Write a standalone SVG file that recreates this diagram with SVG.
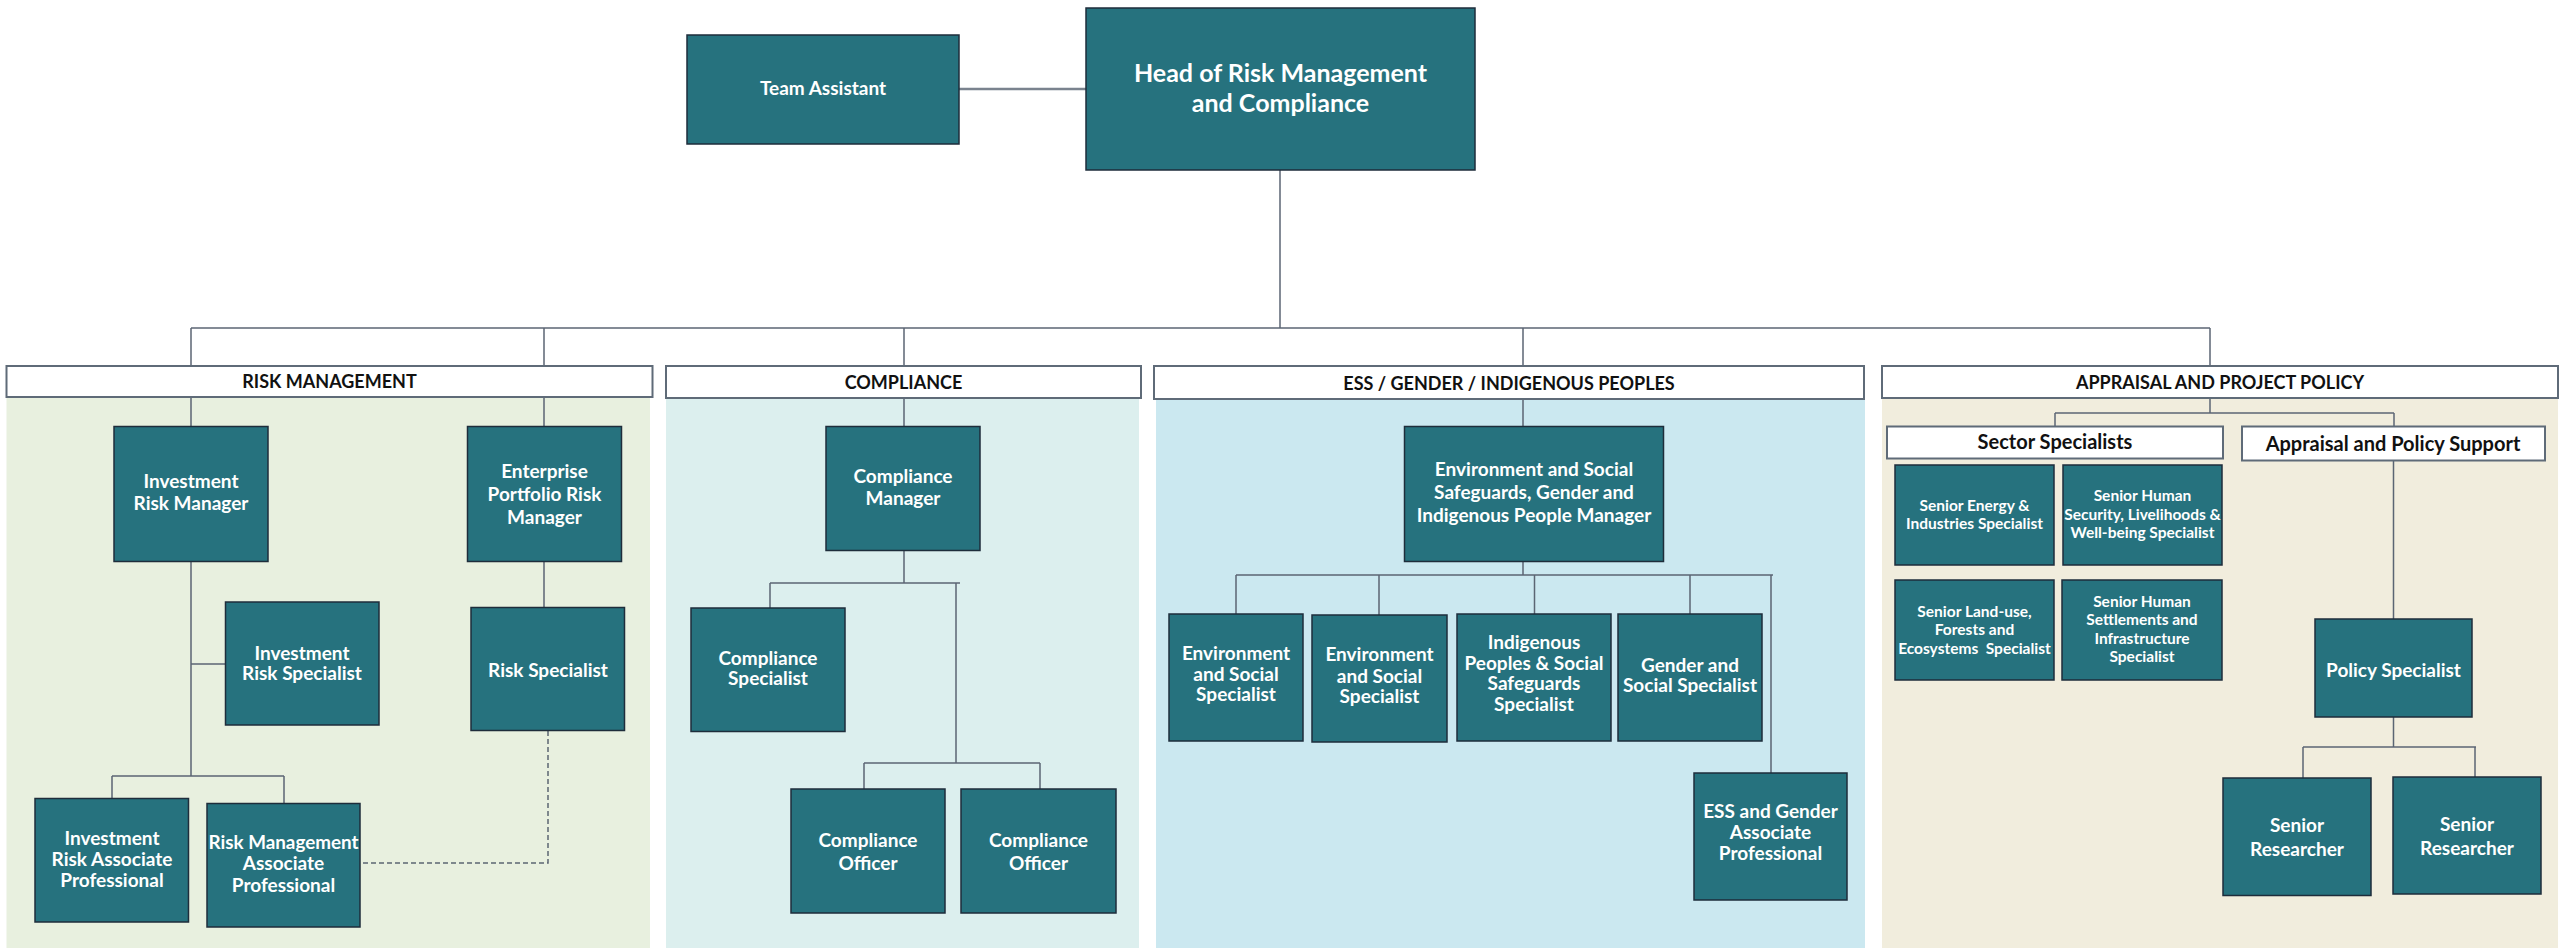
<svg xmlns="http://www.w3.org/2000/svg" width="2560" height="951" viewBox="0 0 2560 951">
<style>
.bg{fill:#ffffff}
.node{fill:#26727E;stroke:#1E2D3B;stroke-width:1.5}
.hdr{fill:#ffffff;stroke:#5F6B78;stroke-width:2}
.t{font-family:Lato,"Open Sans",sans-serif;font-weight:700;fill:#ffffff;text-anchor:middle;font-size:19px}
.ts{font-size:15.5px}
.th{font-family:Lato,"Open Sans",sans-serif;font-weight:700;fill:#111111;text-anchor:middle;font-size:18px}
.c line,.c polyline{stroke:#5B6573;stroke-width:1.5;fill:none}
.dash{stroke-dasharray:5 3}
</style>
<rect class="bg" x="0" y="0" width="2560" height="951"/>
<g id="panels">
<rect x="6.5" y="397" width="643.5" height="551" fill="#E8F0DF"/>
<rect x="666" y="398" width="473" height="550" fill="#DCEFEE"/>
<rect x="1156" y="400" width="709" height="548" fill="#CBE8F0"/>
<rect x="1882" y="398" width="676" height="550" fill="#F1EDDD"/>
</g>
<g id="connectors" class="c">
<line x1="959" y1="89" x2="1086" y2="89" style="stroke-width:2.5;stroke:#7A838E"/>
<line x1="1280" y1="170" x2="1280" y2="328"/>
<line x1="191" y1="328" x2="2210" y2="328"/>
<line x1="191" y1="328" x2="191" y2="366"/>
<line x1="544" y1="328" x2="544" y2="366"/>
<line x1="904" y1="328" x2="904" y2="366"/>
<line x1="1523" y1="328" x2="1523" y2="366"/>
<line x1="2210" y1="328" x2="2210" y2="366"/>
<line x1="191" y1="397" x2="191" y2="426.5"/>
<line x1="544" y1="397" x2="544" y2="426.5"/>
<line x1="191" y1="561.5" x2="191" y2="776"/>
<line x1="191" y1="664" x2="225" y2="664"/>
<line x1="112" y1="776" x2="284" y2="776"/>
<line x1="112" y1="776" x2="112" y2="798"/>
<line x1="284" y1="776" x2="284" y2="803"/>
<line x1="544" y1="561.5" x2="544" y2="608"/>
<polyline class="dash" points="548,731 548,863 360,863"/>
<line x1="904" y1="398" x2="904" y2="426.5"/>
<line x1="904" y1="550" x2="904" y2="583"/>
<line x1="770" y1="583" x2="960" y2="583"/>
<line x1="770" y1="583" x2="770" y2="608"/>
<line x1="956" y1="583" x2="956" y2="763"/>
<line x1="864" y1="763" x2="1040" y2="763"/>
<line x1="864" y1="763" x2="864" y2="789"/>
<line x1="1040" y1="763" x2="1040" y2="789"/>
<line x1="1523" y1="400" x2="1523" y2="426.5"/>
<line x1="1523" y1="561.5" x2="1523" y2="575"/>
<line x1="1236" y1="575" x2="1773" y2="575"/>
<line x1="1236" y1="575" x2="1236" y2="614"/>
<line x1="1379" y1="575" x2="1379" y2="615"/>
<line x1="1534.5" y1="575" x2="1534.5" y2="614"/>
<line x1="1690" y1="575" x2="1690" y2="614"/>
<line x1="1771" y1="575" x2="1771" y2="773"/>
<line x1="2210" y1="398" x2="2210" y2="413"/>
<line x1="2055" y1="413" x2="2394" y2="413"/>
<line x1="2055" y1="413" x2="2055" y2="426.5"/>
<line x1="2394" y1="413" x2="2394" y2="426.5"/>
<line x1="2393.5" y1="461" x2="2393.5" y2="619"/>
<line x1="2393.5" y1="717" x2="2393.5" y2="747"/>
<line x1="2303" y1="747" x2="2476" y2="747"/>
<line x1="2303" y1="747" x2="2303" y2="778"/>
<line x1="2475" y1="747" x2="2475" y2="777"/>
</g>
<g id="head"><rect class="node" x="1086" y="8" width="389" height="162"/>
<text class="t" style="font-size:25px" x="1280.5" y="82">Head of Risk Management</text>
<text class="t" style="font-size:25px" x="1280.5" y="112">and Compliance</text></g>
<g id="team-assistant"><rect class="node" x="687" y="35" width="272" height="109"/>
<text class="t" x="823" y="95">Team Assistant</text></g>

<g id="hdr-risk"><rect class="hdr" x="6.5" y="366" width="646" height="31"/>
<text class="th" x="329.5" y="388">RISK MANAGEMENT</text></g>
<g id="hdr-compliance"><rect class="hdr" x="666" y="366" width="475" height="32"/>
<text class="th" x="903.5" y="388.5">COMPLIANCE</text></g>
<g id="hdr-ess"><rect class="hdr" x="1154" y="366" width="710" height="33"/>
<text class="th" x="1509" y="389.5">ESS / GENDER / INDIGENOUS PEOPLES</text></g>
<g id="hdr-appraisal"><rect class="hdr" x="1882" y="366" width="676" height="32"/>
<text class="th" x="2220" y="389">APPRAISAL AND PROJECT POLICY</text></g>

<g id="irm"><rect class="node" x="114" y="426.5" width="154" height="135"/>
<text class="t" x="191" y="488">Investment</text><text class="t" x="191" y="510">Risk Manager</text></g>
<g id="eprm"><rect class="node" x="467.5" y="426.5" width="154" height="135"/>
<text class="t" x="544.5" y="478">Enterprise</text><text class="t" x="544.5" y="501">Portfolio Risk</text><text class="t" x="544.5" y="524">Manager</text></g>
<g id="irs"><rect class="node" x="225.5" y="602" width="153.5" height="123"/>
<text class="t" x="302" y="659.5">Investment</text><text class="t" x="302" y="680">Risk Specialist</text></g>
<g id="rs"><rect class="node" x="471" y="607.5" width="153.5" height="123"/>
<text class="t" x="548" y="677">Risk Specialist</text></g>
<g id="irap"><rect class="node" x="35" y="798.5" width="153.5" height="123.5"/>
<text class="t" x="112" y="845">Investment</text><text class="t" x="112" y="865.5">Risk Associate</text><text class="t" x="112" y="886.5">Professional</text></g>
<g id="rmap"><rect class="node" x="207" y="803.5" width="153" height="123.5"/>
<text class="t" x="283.5" y="849" textLength="150" lengthAdjust="spacingAndGlyphs">Risk Management</text><text class="t" x="283.5" y="870">Associate</text><text class="t" x="283.5" y="891.5">Professional</text></g>

<g id="cm"><rect class="node" x="826" y="426.5" width="154" height="124"/>
<text class="t" x="903" y="483">Compliance</text><text class="t" x="903" y="505">Manager</text></g>
<g id="cs"><rect class="node" x="691" y="608" width="154" height="123.5"/>
<text class="t" x="768" y="664.5">Compliance</text><text class="t" x="768" y="684.5">Specialist</text></g>
<g id="co1"><rect class="node" x="791" y="789" width="154" height="124"/>
<text class="t" x="868" y="847">Compliance</text><text class="t" x="868" y="870">Officer</text></g>
<g id="co2"><rect class="node" x="961" y="789" width="155" height="124"/>
<text class="t" x="1038.5" y="847">Compliance</text><text class="t" x="1038.5" y="870">Officer</text></g>

<g id="essm"><rect class="node" x="1404.5" y="426.5" width="259" height="135"/>
<text class="t" x="1534" y="476">Environment and Social</text><text class="t" x="1534" y="499">Safeguards, Gender and</text><text class="t" x="1534" y="522">Indigenous People Manager</text></g>
<g id="es1"><rect class="node" x="1169" y="614" width="134" height="127"/>
<text class="t" x="1236" y="660">Environment</text><text class="t" x="1236" y="681">and Social</text><text class="t" x="1236" y="701">Specialist</text></g>
<g id="es2"><rect class="node" x="1312" y="615" width="135" height="127"/>
<text class="t" x="1379.5" y="661">Environment</text><text class="t" x="1379.5" y="682.5">and Social</text><text class="t" x="1379.5" y="702.5">Specialist</text></g>
<g id="ipss"><rect class="node" x="1457" y="614" width="154" height="127"/>
<text class="t" x="1534" y="649">Indigenous</text><text class="t" x="1534" y="669.5">Peoples &amp; Social</text><text class="t" x="1534" y="690">Safeguards</text><text class="t" x="1534" y="711">Specialist</text></g>
<g id="gss"><rect class="node" x="1618" y="614" width="144" height="127"/>
<text class="t" x="1690" y="672">Gender and</text><text class="t" x="1690" y="692">Social Specialist</text></g>
<g id="essgap"><rect class="node" x="1694" y="773" width="153" height="127"/>
<text class="t" x="1770.5" y="818">ESS and Gender</text><text class="t" x="1770.5" y="839">Associate</text><text class="t" x="1770.5" y="860">Professional</text></g>

<g id="hdr-sector"><rect class="hdr" x="1887" y="426.5" width="336" height="32"/>
<text class="th" style="font-size:20px" x="2055" y="449">Sector Specialists</text></g>
<g id="hdr-aps"><rect class="hdr" x="2242" y="426.5" width="303" height="34"/>
<text class="th" style="font-size:20px" x="2393" y="451">Appraisal and Policy Support</text></g>
<g id="seis"><rect class="node" x="1895" y="465" width="159" height="100"/>
<text class="t ts" x="1974.5" y="511">Senior Energy &amp;</text><text class="t ts" x="1974.5" y="529">Industries Specialist</text></g>
<g id="shsl"><rect class="node" x="2063" y="465" width="159" height="100"/>
<text class="t ts" x="2142.5" y="501">Senior Human</text><text class="t ts" x="2142.5" y="519.5">Security, Livelihoods &amp;</text><text class="t ts" x="2142.5" y="537.5">Well-being Specialist</text></g>
<g id="slfe"><rect class="node" x="1895" y="580" width="159" height="100"/>
<text class="t ts" x="1974.5" y="616.5">Senior Land-use,</text><text class="t ts" x="1974.5" y="635">Forests and</text><text class="t ts" x="1974.5" y="653.5" xml:space="preserve">Ecosystems  Specialist</text></g>
<g id="shsi"><rect class="node" x="2062" y="580" width="160" height="100"/>
<text class="t ts" x="2142" y="607">Senior Human</text><text class="t ts" x="2142" y="625">Settlements and</text><text class="t ts" x="2142" y="643.5">Infrastructure</text><text class="t ts" x="2142" y="662">Specialist</text></g>
<g id="ps"><rect class="node" x="2315" y="619" width="157" height="98"/>
<text class="t" x="2393.5" y="677">Policy Specialist</text></g>
<g id="sr1"><rect class="node" x="2223" y="778" width="148" height="117.5"/>
<text class="t" x="2297" y="831.5">Senior</text><text class="t" x="2297" y="855.5">Researcher</text></g>
<g id="sr2"><rect class="node" x="2393" y="777" width="148" height="117"/>
<text class="t" x="2467" y="831">Senior</text><text class="t" x="2467" y="855">Researcher</text></g>
</svg>
